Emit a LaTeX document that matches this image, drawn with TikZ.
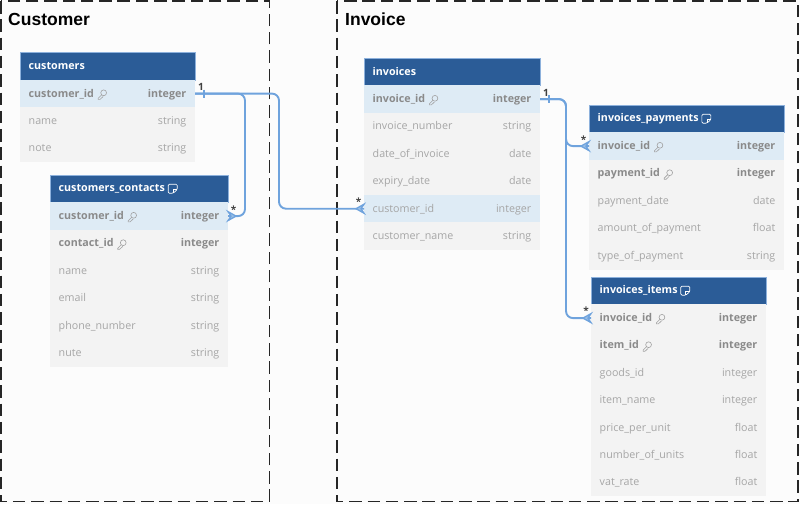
\documentclass[tikz,border=0pt]{standalone}
\usepackage{fontspec}
\setmainfont{Open Sans}
\newfontfamily\titlefont{Liberation Sans}
\usepackage{tikz}
\usetikzlibrary{calc}
\definecolor{headblue}{HTML}{2B5C97}
\definecolor{headedge}{HTML}{8DB1DC}
\definecolor{rowblue}{HTML}{DEEBF5}
\definecolor{rowgrey}{HTML}{F3F3F3}
\definecolor{keygrey}{HTML}{8A8A8A}
\definecolor{textgrey}{HTML}{A6A6A6}
\definecolor{relblue}{HTML}{6FA3DD}
\definecolor{paper}{HTML}{FCFCFC}
\tikzset{
  groupbox/.style={draw=black!85, line width=1.8pt, dash pattern=on 12.5pt off 5.8pt},
  grouptitle/.style={anchor=west, inner sep=0pt, font=\titlefont\bfseries\fontsize{17.5}{20}\selectfont},
  headbox/.style={draw=headedge, line width=0.5pt, fill=headblue, anchor=north west, inner sep=0pt, outer sep=0pt, minimum width=\tabw, minimum height=27.4},
  headtext/.style={anchor=west, xshift=8.5, inner sep=0pt, text=white, font=\bfseries\fontsize{10.7}{12}\selectfont},
  rowbox/.style={fill=rowgrey, anchor=north west, inner sep=0pt, outer xsep=0pt, outer ysep=-0.25pt, minimum width=\tabw, minimum height=27.9},
  rowtext/.style={anchor=west, xshift=8.5, yshift=-0.7, inner sep=0pt, text=textgrey, text height=8, text depth=2.5, font=\fontsize{10.7}{12}\selectfont},
  typetext/.style={anchor=east, xshift=-8.5, yshift=-0.7, inner sep=0pt, text=textgrey, text height=8, text depth=2.5, font=\fontsize{10.7}{12}\selectfont},
  keytext/.style={text=keygrey, font=\bfseries\fontsize{10.7}{12}\selectfont},
  relation/.style={draw=relblue, line width=1.9pt, rounded corners=7pt},
  relmark/.style={draw=relblue, line width=1.3pt},
  cardmark/.style={inner sep=0pt, text=black!75, font=\bfseries\fontsize{10}{12}\selectfont}
}
\newcommand{\keyglyph}[1]{%
  \begin{scope}[shift={(#1)}, draw=keygrey!80, line width=0.6pt]
    \draw (6.5,-1.5) circle (2.9);
    \draw (4.5,0.5) -- (1,4) -- (1,5) -- (3,5) -- (6,2.2);
  \end{scope}%
}
\newcommand{\noteglyph}[1]{%
  \begin{scope}[shift={(#1)}, draw=white, line width=0.7pt]
    \draw[rounded corners=1.2pt] (0,-4.5) -- (9,-4.5) -- (9,1) -- (5,4.5) -- (0,4.5) -- cycle;
    \draw (9,1) -- (5,1) -- (5,4.5);
  \end{scope}%
}
% crow foot, opening towards the table
\newcommand{\crowfoot}[2]{%
  \begin{scope}[shift={(#1)}, xscale=#2]
    \draw[relmark, fill=relblue!70] (0,-4.5) -- (8,0) -- (0,4.5) -- (3,0) -- cycle;
  \end{scope}%
}
\newcommand{\onetick}[1]{%
  \begin{scope}[shift={(#1)}]
    \draw[relmark] (9,-4) -- (9,4);
  \end{scope}%
}
\newcommand{\dbhead}[3]{%
  \node[headbox] (#1) at #2 {};
  \node[headtext] (#1-title) at (#1.west) {#3};
}
\newcommand{\dbrow}[5][]{%
  \node[rowbox,#1] (#3) at (#2.south west) {};
  \node[rowtext] (#3-name) at (#3.west) {#4};
  \node[typetext] (#3-type) at (#3.east) {#5};
}
\newcommand{\dbkeyrow}[5][]{%
  \node[rowbox,#1] (#3) at (#2.south west) {};
  \node[rowtext,keytext] (#3-name) at (#3.west) {#4};
  \node[typetext,keytext] (#3-type) at (#3.east) {#5};
  \keyglyph{$(#3-name.east)+(3,0)$}
}

\begin{document}
\begin{tikzpicture}[x=1pt,y=-1pt]
  \fill[paper] (0,0) rectangle (800,504);
  \useasboundingbox (0,0) rectangle (800,504);

  % groups
  \draw[groupbox] (1,1) rectangle (269.5,501.5);
  \draw[groupbox] (337.3,1) rectangle (798,501.5);
  \node[grouptitle] (customerTitle) at (8,19) {Customer};
  \node[grouptitle] (invoiceTitle) at (345,19) {Invoice};

  % customers
  \def\tabw{175}
  \dbhead{customers}{(20,52.5)}{customers}
  \dbkeyrow[fill=rowblue]{customers}{customers-id}{customer\_id}{integer}
  \dbrow{customers-id}{customers-name}{name}{string}
  \dbrow{customers-name}{customers-note}{note}{string}

  % customers_contacts
  \def\tabw{178}
  \dbhead{contacts}{(50,175)}{customers\_contacts}
  \noteglyph{$(contacts-title.east)+(3,0)$}
  \dbkeyrow[fill=rowblue]{contacts}{contacts-id}{customer\_id}{integer}
  \dbkeyrow{contacts-id}{contacts-contact}{contact\_id}{integer}
  \dbrow{contacts-contact}{contacts-name}{name}{string}
  \dbrow{contacts-name}{contacts-email}{email}{string}
  \dbrow{contacts-email}{contacts-phone}{phone\_number}{string}
  \dbrow{contacts-phone}{contacts-nute}{nute}{string}

  % invoices
  \def\tabw{176}
  \dbhead{invoices}{(364,58)}{invoices}
  \dbkeyrow[fill=rowblue]{invoices}{invoices-id}{invoice\_id}{integer}
  \dbrow{invoices-id}{invoices-number}{invoice\_number}{string}
  \dbrow{invoices-number}{invoices-date}{date\_of\_invoice}{date}
  \dbrow{invoices-date}{invoices-expiry}{expiry\_date}{date}
  \dbrow[fill=rowblue]{invoices-expiry}{invoices-customer}{customer\_id}{integer}
  \dbrow{invoices-customer}{invoices-cname}{customer\_name}{string}

  % invoices_payments
  \def\tabw{195}
  \dbhead{payments}{(589,105)}{invoices\_payments}
  \noteglyph{$(payments-title.east)+(3,0)$}
  \dbkeyrow[fill=rowblue]{payments}{payments-id}{invoice\_id}{integer}
  \dbkeyrow{payments-id}{payments-pid}{payment\_id}{integer}
  \dbrow{payments-pid}{payments-date}{payment\_date}{date}
  \dbrow{payments-date}{payments-amount}{amount\_of\_payment}{float}
  \dbrow{payments-amount}{payments-type}{type\_of\_payment}{string}

  % invoices_items
  \def\tabw{175}
  \dbhead{items}{(591,277)}{invoices\_items}
  \noteglyph{$(items-title.east)+(3,0)$}
  \dbkeyrow{items}{items-id}{invoice\_id}{integer}
  \dbkeyrow{items-id}{items-item}{item\_id}{integer}
  \dbrow{items-item}{items-goods}{goods\_id}{integer}
  \dbrow{items-goods}{items-name}{item\_name}{integer}
  \dbrow{items-name}{items-price}{price\_per\_unit}{float}
  \dbrow{items-price}{items-units}{number\_of\_units}{float}
  \dbrow{items-units}{items-vat}{vat\_rate}{float}

  % relations
  \coordinate (bendContacts) at (245,150);
  \coordinate (bendInvoices) at (279,150);
  \coordinate (bendPayments) at (566,120);
  \coordinate (bendItems) at (566,200);
  \draw[relation] (customers-id.east) -| (bendContacts) |- (contacts-id.east);
  \draw[relation] (customers-id.east) -| (bendInvoices) |- (invoices-customer.west);
  \draw[relation] (invoices-id.east) -| (bendPayments) |- (payments-id.west);
  \draw[relation] (invoices-id.east) -| (bendItems) |- (items-id.west);

  \onetick{customers-id.east}
  \onetick{invoices-id.east}
  \crowfoot{contacts-id.east}{1}
  \crowfoot{invoices-customer.west}{-1}
  \crowfoot{payments-id.west}{-1}
  \crowfoot{items-id.west}{-1}

  \node[cardmark] (oneCustomers) at (201,87) {1};
  \node[cardmark] (oneInvoices) at (546,93) {1};
  \node[cardmark] (manyContacts) at (233.5,209.5) {*};
  \node[cardmark] (manyCustomer) at (358.5,202) {*};
  \node[cardmark] (manyPayments) at (583.5,139.5) {*};
  \node[cardmark] (manyItems) at (586,311) {*};
\end{tikzpicture}
\end{document}
